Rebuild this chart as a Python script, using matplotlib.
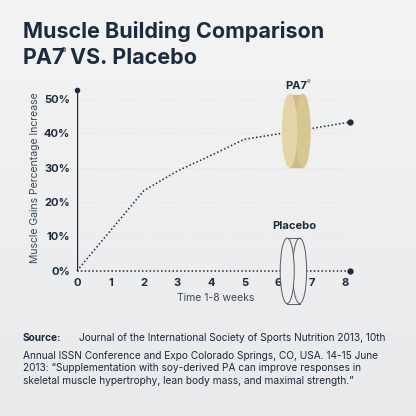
import numpy as np
import matplotlib.pyplot as plt
from matplotlib.patches import Ellipse, Rectangle

weeks_pa7 = [0, 2, 3, 4, 5, 6.5, 8.15]
gain_pa7 = [0, 23.3, 29, 33.5, 38.2, 40.5, 43.2]
weeks_placebo = [0, 8.15]
gain_placebo = [0, 0]
x_ticks = [0, 1, 2, 3, 4, 5, 6, 7, 8]
y_ticks = [0, 10, 20, 30, 40, 50]

navy = "#1c2b3d"
plt.rcParams['font.family'] = ['Inter', 'DejaVu Sans']

fig = plt.figure(figsize=(4.16, 4.16), dpi=100)
bg = fig.add_axes([0, 0, 1, 1], zorder=-10)
grad = np.linspace(0, 1, 256).reshape(-1, 1)
bg.imshow(grad, cmap=plt.matplotlib.colors.LinearSegmentedColormap.from_list("g", ["#f4f4f4", "#e9eaec"]),
          aspect="auto", extent=[0, 1, 0, 1], origin="upper")
bg.axis("off")

ax = fig.add_axes([0.185, 0.349, 0.668, 0.447])
ax.patch.set_alpha(0)
ax.set_xlim(0, 8.3)
ax.set_ylim(0, 54)
for s in ax.spines.values():
    s.set_visible(False)

for y in y_ticks[1:]:
    ax.plot([0, 8.15], [y, y], color="#dcdde0", lw=0.6, ls=(0, (1, 2)))
ax.plot([0, 0], [0, 52.5], color=navy, lw=1)
ax.plot(0, 52.5, "o", color=navy, ms=3, clip_on=False)

ax.plot(weeks_pa7, gain_pa7, color=navy, lw=1.1, ls=(0, (1, 1.5)), clip_on=False)
ax.plot(weeks_placebo, gain_placebo, color=navy, lw=1.1, ls=(0, (1, 1.5)), clip_on=False)
ax.plot(weeks_pa7[-1], gain_pa7[-1], "o", color=navy, ms=3.5, clip_on=False)
ax.plot(weeks_placebo[-1], gain_placebo[-1], "o", color=navy, ms=3.5, clip_on=False)

# PA7 tablet
ax.add_patch(Rectangle((6.35, 30.2), 0.4, 21, color="#cfb985", zorder=3))
ax.add_patch(Ellipse((6.75, 40.7), 0.42, 21, color="#d8c690", zorder=3))
ax.add_patch(Ellipse((6.35, 40.7), 0.42, 21, color="#e4d5a8", zorder=4))
ax.text(6.55, 52.3, "PA7", ha="center", va="bottom", fontsize=8, fontweight="bold", color=navy)
ax.text(6.93, 53.8, "®", ha="center", va="bottom", fontsize=4, color=navy)

# Placebo tablet
ax.add_patch(Ellipse((6.65, 0), 0.42, 19, facecolor="#eeeeef", edgecolor="#555c66", lw=0.7, zorder=3, clip_on=False))
ax.plot([6.28, 6.65], [9.5, 9.5], color="#555c66", lw=0.7, zorder=4, clip_on=False)
ax.plot([6.28, 6.65], [-9.5, -9.5], color="#555c66", lw=0.7, zorder=4, clip_on=False)
ax.add_patch(Ellipse((6.28, 0), 0.42, 19, facecolor="#eeeeef", edgecolor="#555c66", lw=0.7, zorder=5, clip_on=False))
ax.text(6.5, 11.5, "Placebo", ha="center", va="bottom", fontsize=8, fontweight="bold", color=navy)

ax.set_xticks(x_ticks)
ax.set_xticklabels([str(t) for t in x_ticks], fontsize=8, fontweight="bold", color=navy)
ax.set_yticks(y_ticks)
ax.set_yticklabels([f"{t}%" for t in y_ticks], fontsize=8, fontweight="bold", color=navy)
ax.tick_params(length=0, pad=5)
ax.set_xlabel("Time 1-8 weeks", fontsize=7.5, color="#3b4859", labelpad=4)
ax.set_ylabel("Muscle Gains Percentage Increase", fontsize=7.5, color="#3b4859", labelpad=3)

fig.text(0.055, 0.95, "Muscle Building Comparison", fontsize=15.5, fontweight="bold", color=navy, va="top")
t2 = fig.text(0.055, 0.885, "PA7", fontsize=15.5, fontweight="bold", color=navy, va="top")
fig.text(0.146, 0.888, "®", fontsize=6, color=navy, va="top")
fig.text(0.168, 0.885, "VS. Placebo", fontsize=15.5, fontweight="bold", color=navy, va="top")

src = fig.text(0.055, 0.2, "Source:", fontsize=7.3, fontweight="bold", color=navy, va="top")
fig.text(0.19, 0.2, "Journal of the International Society of Sports Nutrition 2013, 10th",
         fontsize=7.3, color=navy, va="top")
fig.text(0.055, 0.2 - 0.043,
         "Annual ISSN Conference and Expo Colorado Springs, CO, USA. 14-15 June\n"
         "2013: \u201cSupplementation with soy-derived PA can improve responses in\n"
         "skeletal muscle hypertrophy, lean body mass, and maximal strength.\u201d",
         fontsize=7.3, color=navy, va="top", linespacing=1.35)

fig.savefig("out.png", dpi=100)
